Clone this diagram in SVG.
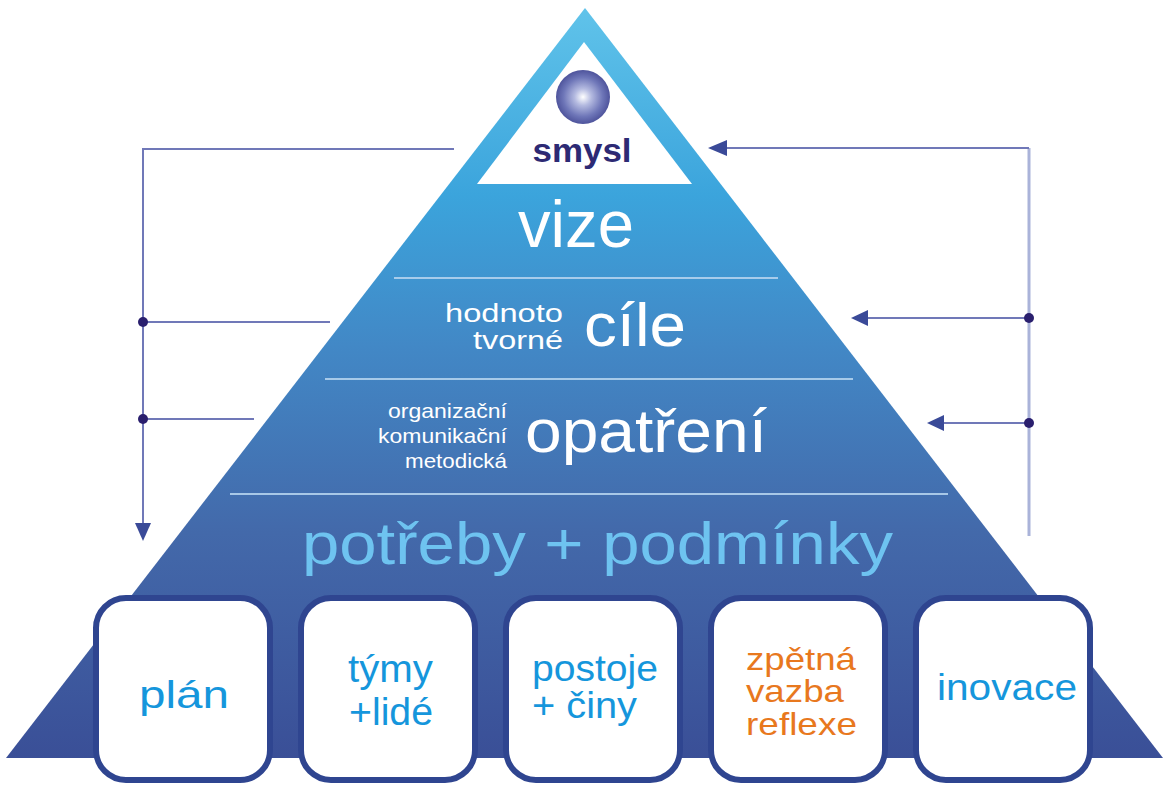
<svg xmlns="http://www.w3.org/2000/svg" width="1165" height="785" viewBox="0 0 1165 785">
<defs>
<linearGradient id="pg" x1="0" y1="8" x2="0" y2="758" gradientUnits="userSpaceOnUse">
<stop offset="0" stop-color="#60c3ea"/>
<stop offset="0.25" stop-color="#3ba4dc"/>
<stop offset="0.45" stop-color="#4288c6"/>
<stop offset="0.7" stop-color="#4369aa"/>
<stop offset="1" stop-color="#3a4f97"/>
</linearGradient>
<radialGradient id="sg" cx="583" cy="97" r="28" gradientUnits="userSpaceOnUse">
<stop offset="0" stop-color="#ffffff"/>
<stop offset="0.3" stop-color="#b4bae0"/>
<stop offset="0.7" stop-color="#6e76b8"/>
<stop offset="1" stop-color="#4a4f98"/>
</radialGradient>
<style>
text{font-family:"Liberation Sans",Arial,sans-serif}
.w{fill:#ffffff}
.b{fill:#1596dc}
.o{fill:#e8781e}
.div{stroke:#b3d2ee;stroke-width:2;opacity:0.9}
.box{fill:#ffffff;stroke:#2f4590;stroke-width:6}
.ln{stroke:#7078b8;stroke-width:2;fill:none}
.lnr{stroke:#aab3d9;stroke-width:3;fill:none}
.dot{fill:#2a1f6e}
.ar{fill:#3a4a98}
</style>
</defs>
<rect width="1165" height="785" fill="#ffffff"/>

<g id="pyramid">
<polygon points="585,8 1163,758 6,758" fill="url(#pg)"/>
</g>

<g id="smysl">
<polygon points="584,42 692,184 477,184" fill="#ffffff"/>
<circle cx="583" cy="97" r="27" fill="url(#sg)"/>
<text x="582" y="162" text-anchor="middle" font-size="34" font-weight="bold" fill="#2d2a74" textLength="99" lengthAdjust="spacingAndGlyphs">smysl</text>
</g>

<g id="vize">
<text x="576" y="247" text-anchor="middle" font-size="66" class="w" textLength="116" lengthAdjust="spacingAndGlyphs">vize</text>
</g>

<g id="dividers">
<line class="div" x1="394" y1="278" x2="778" y2="278"/>
<line class="div" x1="325" y1="379" x2="853" y2="379"/>
<line class="div" x1="230" y1="494" x2="948" y2="494"/>
</g>

<g id="cile">
<text x="563" y="322" text-anchor="end" font-size="26" class="w" textLength="118" lengthAdjust="spacingAndGlyphs">hodnoto</text>
<text x="563" y="349" text-anchor="end" font-size="26" class="w" textLength="90" lengthAdjust="spacingAndGlyphs">tvorné</text>
<text x="584" y="346" font-size="62" class="w" textLength="102" lengthAdjust="spacingAndGlyphs">cíle</text>
</g>

<g id="opatreni">
<text x="507" y="418" text-anchor="end" font-size="21" class="w" textLength="119" lengthAdjust="spacingAndGlyphs">organizační</text>
<text x="507" y="443" text-anchor="end" font-size="21" class="w" textLength="129" lengthAdjust="spacingAndGlyphs">komunikační</text>
<text x="507" y="468" text-anchor="end" font-size="21" class="w" textLength="102" lengthAdjust="spacingAndGlyphs">metodická</text>
<text x="525" y="452" font-size="62" class="w" textLength="242" lengthAdjust="spacingAndGlyphs">opatření</text>
</g>

<g id="potreby">
<text x="302" y="564" font-size="60" fill="#6ec3f0" textLength="591" lengthAdjust="spacingAndGlyphs">potřeby + podmínky</text>
</g>

<g id="box-plan">
<rect class="box" x="96" y="598" width="174" height="182" rx="30"/>
<text x="139" y="708" font-size="39" class="b" textLength="90" lengthAdjust="spacingAndGlyphs">plán</text>
</g>
<g id="box-tymy">
<rect class="box" x="301" y="598" width="174" height="182" rx="30"/>
<text x="348" y="682" font-size="38" class="b" textLength="85" lengthAdjust="spacingAndGlyphs">týmy</text>
<text x="349" y="725" font-size="38" class="b" textLength="84" lengthAdjust="spacingAndGlyphs">+lidé</text>
</g>
<g id="box-postoje">
<rect class="box" x="506" y="598" width="174" height="182" rx="30"/>
<text x="532" y="681" font-size="37" class="b" textLength="126" lengthAdjust="spacingAndGlyphs">postoje</text>
<text x="532" y="718" font-size="37" class="b" textLength="105" lengthAdjust="spacingAndGlyphs">+ činy</text>
</g>
<g id="box-zpetna">
<rect class="box" x="711" y="598" width="174" height="182" rx="30"/>
<text x="746" y="670" font-size="32" class="o" textLength="110" lengthAdjust="spacingAndGlyphs">zpětná</text>
<text x="746" y="702" font-size="32" class="o" textLength="98" lengthAdjust="spacingAndGlyphs">vazba</text>
<text x="746" y="735" font-size="32" class="o" textLength="111" lengthAdjust="spacingAndGlyphs">reflexe</text>
</g>
<g id="box-inovace">
<rect class="box" x="916" y="598" width="174" height="182" rx="30"/>
<text x="1007" y="700" text-anchor="middle" font-size="36" class="b" textLength="140" lengthAdjust="spacingAndGlyphs">inovace</text>
</g>

<g id="connectors">
<polyline class="ln" points="454,149 143,149 143,525"/>
<polygon class="ar" points="135,523 151,523 143,541"/>
<line class="ln" x1="143" y1="322" x2="330" y2="322"/>
<line class="ln" x1="143" y1="419" x2="254" y2="419"/>
<circle class="dot" cx="143" cy="322" r="5"/>
<circle class="dot" cx="143" cy="419" r="5"/>

<polyline class="lnr" points="1029,536 1029,148"/>
<line class="ln" x1="1029" y1="148" x2="725" y2="148"/>
<polygon class="ar" points="708,148 727,140 727,156"/>
<line class="ln" x1="1029" y1="318" x2="866" y2="318"/>
<polygon class="ar" points="851,318 868,310 868,326"/>
<line class="ln" x1="1029" y1="423" x2="942" y2="423"/>
<polygon class="ar" points="927,423 944,415 944,431"/>
<circle class="dot" cx="1029" cy="318" r="5"/>
<circle class="dot" cx="1029" cy="423" r="5"/>
</g>
</svg>
